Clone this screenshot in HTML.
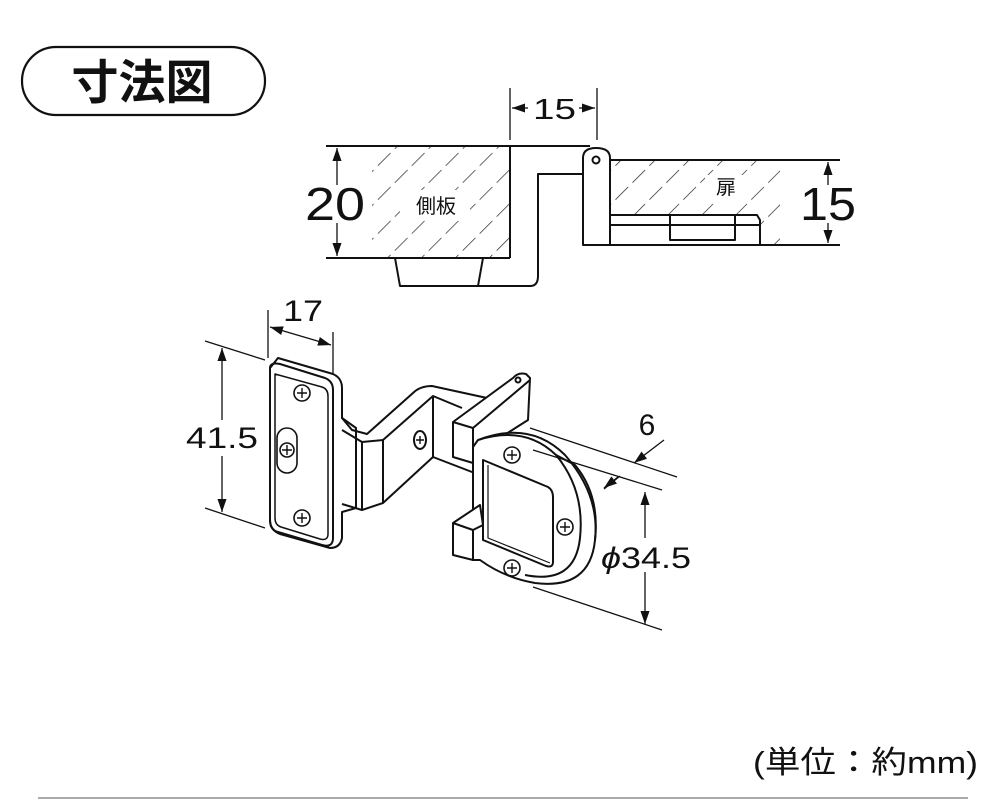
<!DOCTYPE html>
<html><head><meta charset="utf-8"><style>
html,body{margin:0;padding:0;background:#fff;}
svg{display:block}
text{font-family:"Liberation Sans","Noto Sans CJK JP",sans-serif;fill:#111}
</style></head><body>
<svg width="1000" height="800" viewBox="0 0 1000 800" xmlns="http://www.w3.org/2000/svg">
<defs>
<pattern id="h" patternUnits="userSpaceOnUse" width="24" height="24" patternTransform="rotate(45)">
<line x1="0" y1="0" x2="0" y2="24" stroke="#222" stroke-width="1.4" stroke-dasharray="18 6"/>
</pattern>
<marker id="a" viewBox="0 0 10 10" refX="10" refY="5" markerWidth="10" markerHeight="10" orient="auto-start-reverse"><path d="M0,1.5 L10,5 L0,8.5 z" fill="#111"/></marker>
</defs>
<!-- title -->
<rect x="22" y="47" width="243" height="68" rx="34" fill="none" stroke="#111" stroke-width="2.2"/>
<text x="142" y="99" font-size="47" font-weight="bold" text-anchor="middle">寸法図</text>

<g stroke="#111" stroke-width="2" fill="none" stroke-linejoin="round">
<!-- top section -->
<rect x="372" y="146" width="138" height="112" fill="url(#h)" stroke="none"/>
<rect x="610" y="160" width="170" height="55" fill="url(#h)" stroke="none"/>
<rect x="760" y="215" width="20" height="30" fill="url(#h)" stroke="none"/>
<rect x="400" y="190" width="70" height="30" fill="#fff" stroke="none"/>
<rect x="705" y="175" width="38" height="25" fill="#fff" stroke="none"/>
<line x1="326" y1="146" x2="590" y2="146"/>
<line x1="326" y1="258" x2="510" y2="258"/>
<line x1="510" y1="146" x2="510" y2="258"/>
<path d="M395,258 L400,286 L530,286 Q538,286 538,276 L538,174 L583,174"/>
<line x1="478" y1="286" x2="483" y2="258"/>
<path d="M583,245 L583,158 Q583,148 596,148 Q610,148 610,158 L610,245 Z" fill="#fff"/>
<circle cx="596" cy="160" r="3.5"/>
<line x1="610" y1="160" x2="840" y2="160"/>
<line x1="583" y1="245" x2="840" y2="245"/>
<path d="M610,215 L757,215 L760,220 L760,245"/>
<line x1="610" y1="225" x2="760" y2="225"/>
<path d="M670,240 L670,215 L735,215 L735,240 Z"/>
<!-- top dims -->
<g stroke-width="1.3">
<line x1="510" y1="88" x2="510" y2="140"/>
<line x1="597" y1="88" x2="597" y2="140"/>
<line x1="512" y1="108" x2="528" y2="108" marker-start="url(#a)"/>
<line x1="579" y1="108" x2="595" y2="108" marker-end="url(#a)"/>
<line x1="337" y1="148" x2="337" y2="256" marker-start="url(#a)" marker-end="url(#a)"/>
<line x1="828" y1="162" x2="828" y2="243" marker-start="url(#a)" marker-end="url(#a)"/>
</g>

<!-- hinge: back plate -->
<path d="M270,368 L278,358 L333,374 Q342,378 342,388 L342,418 L356,428 L356,508 L342,512 L342,538 Q340,548 330,548 L280,534 Q270,530 270,520 Z" fill="#fff"/>
<path d="M270,368 Q270,362 280,364 L325,378 Q333,381 333,390 L333,538 Q333,548 322,545 L278,532 Q270,530 270,520 Z"/>
<path d="M275,374 L322,387 Q328,389 328,396 L328,534 Q328,541 320,539 L281,527 Q275,525 275,518 Z" stroke-width="1.5"/>
<!-- arm -->
<path d="M342,418 L352,430 L367,434 L413,393 Q420,386 432,386 L487,398"/>
<path d="M342,430 L362,442 L362,510 L342,504"/>
<path d="M362,442 L383,440 L433,396 L433,457 L383,503 L362,510"/>
<line x1="383" y1="440" x2="383" y2="503"/>
<line x1="433" y1="396" x2="462" y2="408"/>
<line x1="433" y1="457" x2="485" y2="477"/>
<ellipse cx="420" cy="440" rx="6" ry="9"/>
<!-- bracket -->
<path d="M453,422 L513,378 Q518,372 526,374 L530,378 L528,420 L473,455 L473,463 L453,457 Z" fill="#fff"/>
<path d="M453,422 L473,428 L530,380"/>
<line x1="473" y1="428" x2="473" y2="455"/>
<circle cx="518" cy="380" r="2.5"/>
<!-- cup -->
<path d="M473,447 L478,440 Q530,420 565,455 Q600,495 595,540 Q590,590 535,583 Q505,578 480,560 L473,560 Z" fill="#fff"/>
<path d="M478,440 Q525,425 556,455 Q585,490 580,538 Q575,585 525,575"/>
<path d="M556,455 L575,465 Q600,495 595,540"/>
<path d="M453,523 L480,505 L483,525 L473,530 L473,560 L453,555 Z" fill="#fff"/>
<line x1="453" y1="523" x2="473" y2="530"/>
<path d="M483,460 L548,487 Q553,490 553,497 L553,562 Q553,568 546,566 L483,540 Z" fill="#fff"/>
<path d="M488,465 L488,538 L550,563" stroke-width="1.2"/>
</g>
<!-- screws -->
<g stroke="#111" stroke-width="1.6" fill="#fff">
<circle cx="302" cy="393" r="8"/><circle cx="302" cy="518" r="8"/>
<rect x="277" y="428" width="20" height="45" rx="10"/>
<circle cx="287" cy="450" r="7"/>
<circle cx="512" cy="455" r="8"/><circle cx="565" cy="527" r="8"/><circle cx="512" cy="568" r="8"/>
</g>
<g stroke="#111" stroke-width="1.4">
<path d="M302,388v10M297,393h10M302,513v10M297,518h10M287,445v10M282,450h10M512,450v10M507,455h10M565,522v10M560,527h10M512,563v10M507,568h10M420,436v8M416,440h8"/>
</g>
<!-- hinge dims -->
<g stroke="#111" stroke-width="1.3" fill="none">
<line x1="268" y1="310" x2="268" y2="358"/>
<line x1="333" y1="332" x2="333" y2="375"/>
<line x1="270" y1="327" x2="331" y2="345" marker-start="url(#a)" marker-end="url(#a)"/>
<line x1="205" y1="341" x2="265" y2="360"/>
<line x1="205" y1="508" x2="265" y2="528"/>
<line x1="222" y1="348" x2="222" y2="512" marker-start="url(#a)" marker-end="url(#a)"/>
<line x1="530" y1="428" x2="677" y2="477"/>
<line x1="533" y1="450" x2="662" y2="490"/>
<line x1="664" y1="440" x2="634" y2="463" marker-end="url(#a)"/>
<line x1="620" y1="476" x2="604" y2="489" />
<line x1="618" y1="477" x2="604" y2="488" marker-end="url(#a)"/>
<line x1="533" y1="587" x2="662" y2="630"/>
<line x1="645" y1="492" x2="645" y2="624" marker-start="url(#a)" marker-end="url(#a)"/>
</g>
<rect x="598" y="538" width="94" height="34" fill="#fff"/>
<!-- text -->
<text x="533" y="119" font-size="29" textLength="43" lengthAdjust="spacingAndGlyphs">15</text>
<rect x="305" y="185" width="60" height="38" fill="#fff"/>
<text x="305" y="220" font-size="46" textLength="60" lengthAdjust="spacingAndGlyphs">20</text>
<rect x="800" y="185" width="56" height="38" fill="#fff"/>
<text x="800" y="220" font-size="46" textLength="56" lengthAdjust="spacingAndGlyphs">15</text>
<text x="436" y="213" font-size="20" text-anchor="middle">側板</text>
<text x="726" y="194" font-size="20" text-anchor="middle">扉</text>
<text x="283" y="321" font-size="30" textLength="40" lengthAdjust="spacingAndGlyphs">17</text>
<rect x="185" y="420" width="75" height="36" fill="#fff"/>
<text x="186" y="448" font-size="30" textLength="72" lengthAdjust="spacingAndGlyphs">41.5</text>
<text x="647" y="435" font-size="30" text-anchor="middle">6</text>
<text x="601" y="568" font-size="30" textLength="90" lengthAdjust="spacingAndGlyphs"><tspan font-style="italic">ϕ</tspan>34.5</text>
<text x="753" y="773" font-size="31" textLength="225" lengthAdjust="spacingAndGlyphs" fill="#222">(単位：約mm)</text>
<line x1="38" y1="798" x2="968" y2="798" stroke="#aaa" stroke-width="2"/>
</svg>
</body></html>
